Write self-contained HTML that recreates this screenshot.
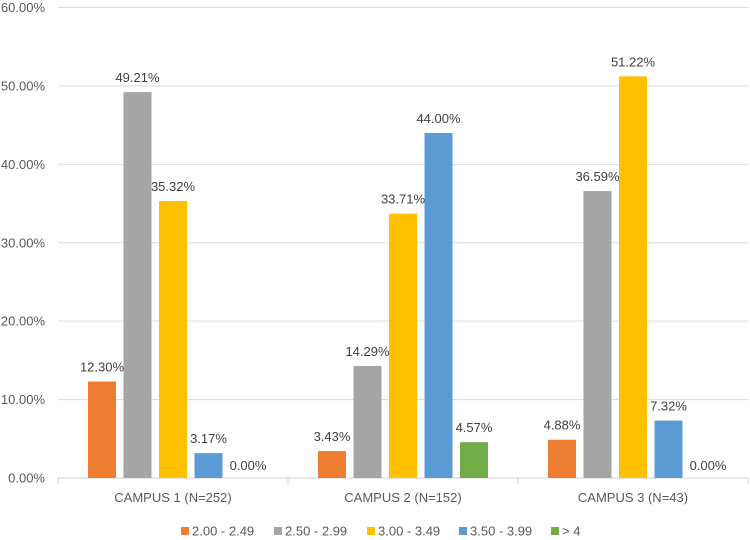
<!DOCTYPE html>
<html><head><meta charset="utf-8"><style>
html,body{margin:0;padding:0;background:#fff;}
svg{display:block;font-family:"Liberation Sans",sans-serif;}
</style></head><body>
<svg id="chart" width="750" height="540"></svg>
<script>
const categories = ["CAMPUS 1 (N=252)", "CAMPUS 2 (N=152)", "CAMPUS 3 (N=43)"];
const seriesNames = ["2.00 - 2.49", "2.50 - 2.99", "3.00 - 3.49", "3.50 - 3.99", "> 4"];
const s1 = [12.30, 3.43, 4.88];
const s2 = [49.21, 14.29, 36.59];
const s3 = [35.32, 33.71, 51.22];
const s4 = [3.17, 44.00, 7.32];
const s5 = [0.00, 4.57, 0.00];
const yTicks = [0, 10, 20, 30, 40, 50, 60];
const colors = ["#ed7d31", "#a5a5a5", "#ffc000", "#5b9bd5", "#70ad47"];

const NS = "http://www.w3.org/2000/svg";
const svg = document.getElementById("chart");
const pLeft = 58, pRight = 748, pTop = 7.5, pBottom = 478, yMax = 60;
const catW = (pRight - pLeft) / categories.length;
const barW = 28, step = 35.5;
function yScale(v){ return pBottom - v / yMax * (pBottom - pTop); }
function xBar(ci, si){ const c = pLeft + catW * ci + catW / 2; const gw = step * 4 + barW; return c - gw / 2 + si * step; }
function mk(tag, attrs, txt){ const e = document.createElementNS(NS, tag); for (const k in attrs) e.setAttribute(k, attrs[k]); if (txt !== undefined) e.textContent = txt; svg.appendChild(e); return e; }

yTicks.forEach(t => {
  const g = mk("line", {x1: pLeft, x2: pRight, y1: yScale(t), y2: yScale(t), stroke: t === 0 ? "#d0d0d0" : "#d9d9d9", "stroke-width": 1});
  
  
  const l = mk("text", {x: 45, y: yScale(t) + 4.5, "text-anchor": "end", "font-size": 13, fill: "#595959"}, t.toFixed(2) + "%");
  
  
});
for (let i = 0; i <= categories.length; i++) {
  const tk = mk("line", {x1: pLeft + catW * i, x2: pLeft + catW * i, y1: pBottom, y2: pBottom + 6, stroke: "#d0d0d0"});
  
  
}
const series = [s1, s2, s3, s4, s5];
categories.forEach((c, ci) => {
  const cl = mk("text", {x: pLeft + catW * ci + catW / 2, y: pBottom + 24, "text-anchor": "middle", "font-size": 13, fill: "#595959"}, c);
  
  
  series.forEach((s, si) => {
    const v = s[ci], x = xBar(ci, si);
    if (v > 0) {
      const r = mk("rect", {x: x, y: yScale(v), width: barW, height: pBottom - yScale(v), fill: colors[si]});
      
      
    }
    const lbl = mk("text", {x: v > 0 ? x + barW / 2 : x + barW / 2 + 4, y: v > 0 ? yScale(v) - 10 : yScale(v) - 8, "text-anchor": "middle", "font-size": 13, fill: "#404040"}, v.toFixed(2) + "%");
    
    
  });
});
const legX = [181, 274, 367, 459, 551];
seriesNames.forEach((n, i) => {
  const sq = mk("rect", {x: legX[i], y: 527, width: 8, height: 8, fill: colors[i]});
  
  
  const t = mk("text", {x: legX[i] + 11, y: 535.5, "font-size": 13, fill: "#595959"}, n);
  
  
});
</script>
</body></html>
